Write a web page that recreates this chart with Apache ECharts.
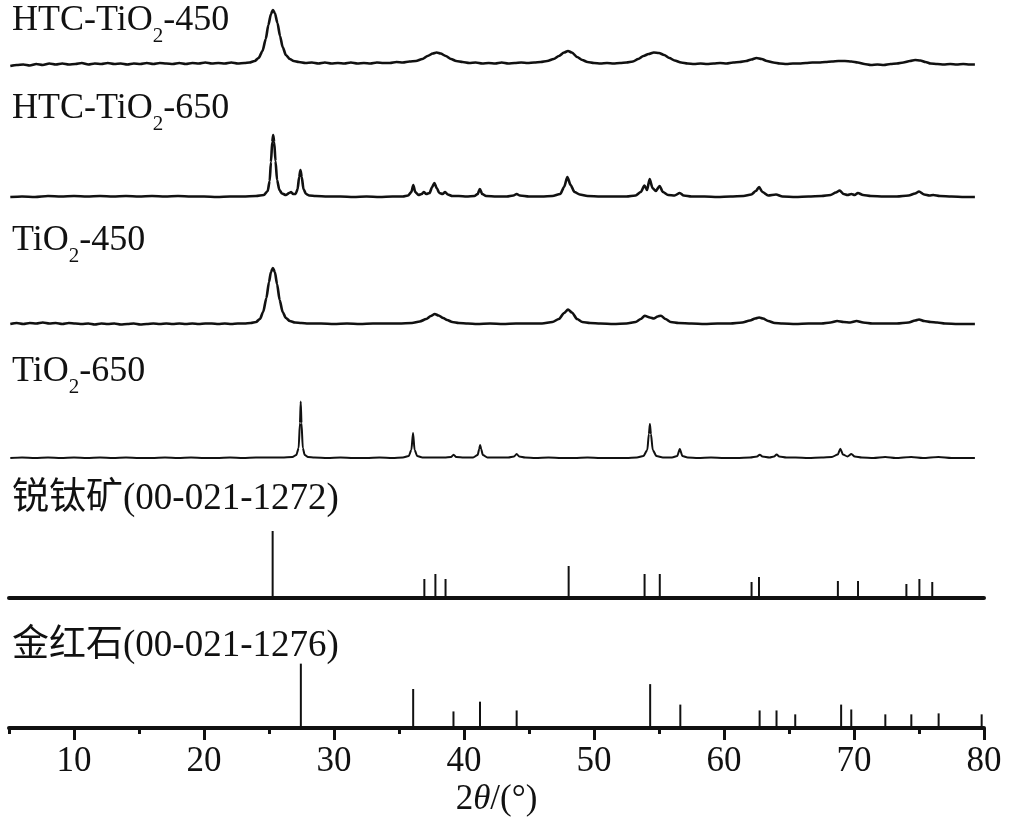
<!DOCTYPE html>
<html><head><meta charset="utf-8">
<script src="https://cdn.jsdelivr.net/npm/echarts@6/dist/echarts.min.js"></script>
<style>html,body{margin:0;padding:0;background:#fff}#c{width:1013px;height:818px}</style>
</head><body><div id="c"></div>
<script>
// ---------- data (2θ in degrees, intensity in arbitrary units above each pattern's baseline) ----------
const xTickValues = [10, 20, 30, 40, 50, 60, 70, 80];
const xMinorTickValues = [5, 15, 25, 35, 45, 55, 65, 75];
const patternLabels = ['HTC-TiO|2|-450', 'HTC-TiO|2|-650', 'TiO|2|-450', 'TiO|2|-650', '锐钛矿(00-021-1272)', '金红石(00-021-1276)'];

const htc450 = [[5.1,-1],[5.6,0],[6.1,0.5],[6.6,-0.5],[7.1,1],[7.6,0],[8.1,1.5],[8.6,0.5],[9.1,1.5],[9.6,0.5],[10.1,1],[10.6,2],[11.1,0.5],[11.6,1.5],[12.1,1],[12.6,2],[13.1,1],[13.6,1.5],[14.1,0.5],[14.6,1.5],[15.1,1],[15.6,2],[16.1,1],[16.6,2],[17.1,1.5],[17.6,1],[18.1,2],[18.6,1],[19.1,2],[19.6,1.5],[20.1,2.5],[20.6,1.5],[21.1,2],[21.6,1.5],[22.1,2.5],[22.6,1.5],[23.1,2],[23.5,2.5],[23.9,4],[24.2,7],[24.5,14],[24.75,26],[24.95,40],[25.15,51],[25.3,55],[25.45,52],[25.65,42],[25.85,29],[26.05,18],[26.3,10],[26.6,6],[26.9,4],[27.3,3],[27.8,2],[28.3,2.5],[28.8,1.5],[29.3,2.5],[29.8,1.5],[30.3,2],[30.8,1.5],[31.3,2.5],[31.8,1.5],[32.3,2],[32.8,1.5],[33.3,2.5],[33.8,2],[34.3,2],[34.8,3],[35.3,2.5],[35.8,3.5],[36.3,4],[36.8,6],[37.2,9],[37.6,11.5],[37.9,12.5],[38.2,11.5],[38.6,9],[39.0,6],[39.4,4],[39.9,3],[40.4,2],[40.9,2.5],[41.4,1.5],[41.9,2],[42.4,1.5],[42.9,2.5],[43.4,1.5],[43.9,2],[44.4,2.5],[44.9,2],[45.4,2.5],[45.9,3],[46.4,4],[46.9,6],[47.3,9],[47.7,12.5],[48.0,14],[48.3,12.5],[48.7,8],[49.1,5],[49.5,3],[50.0,2],[50.5,1.5],[51.0,2],[51.5,1.5],[52.0,2],[52.5,2.5],[53.0,3.5],[53.4,6],[53.8,9],[54.2,11],[54.6,12.5],[55.0,12],[55.4,10],[55.8,7],[56.2,4.5],[56.7,2.5],[57.2,1.5],[57.7,1],[58.2,1.5],[58.7,1],[59.2,1.5],[59.7,2],[60.2,1.5],[60.7,2.5],[61.2,3],[61.7,4],[62.1,5.5],[62.5,7],[62.9,6],[63.3,4],[63.8,2.5],[64.3,1.5],[64.8,1],[65.3,1.5],[65.8,1.5],[66.3,2],[66.8,2.5],[67.3,2.5],[67.8,3],[68.3,3.5],[68.8,4],[69.3,4],[69.8,3.5],[70.3,2.5],[70.8,1],[71.3,0],[71.8,0.5],[72.3,0],[72.8,1],[73.3,1.5],[73.8,2.5],[74.3,4],[74.7,5],[75.1,4.5],[75.5,3],[75.9,1.5],[76.4,1],[76.9,0.5],[77.4,1],[77.9,0.5],[78.4,1],[78.9,0.5],[79.3,0.5]];

const htc650 = [[5.1,0],[6,0.5],[7,0],[8,1],[9,0.5],[10,1],[11,0.5],[12,1],[13,0.5],[14,1],[15,0.5],[16,1],[17,0.5],[18,1],[19,0.5],[20,0.5],[21,0],[22,0.5],[23,0.5],[24,1],[24.6,2],[24.9,6],[25.05,16],[25.15,35],[25.25,55],[25.32,62],[25.4,55],[25.5,36],[25.62,17],[25.8,7],[26.0,3.5],[26.3,2],[26.55,4],[26.7,5],[26.85,3],[27.05,3],[27.2,8],[27.32,20],[27.42,27],[27.52,20],[27.65,8],[27.85,3],[28.1,1.5],[28.6,1],[29.5,0.5],[30.5,0.5],[31.5,0],[32.5,0.5],[33.5,0],[34.5,0.5],[35.3,0.5],[35.7,1.5],[35.95,5],[36.1,12],[36.25,5],[36.5,2],[36.75,3],[36.9,5],[37.1,3],[37.35,4],[37.55,10],[37.72,14],[37.9,9],[38.1,4],[38.35,3],[38.55,5],[38.75,2.5],[39.1,1],[39.6,1],[40.2,0.5],[40.8,1],[41.05,3],[41.22,8],[41.4,3],[41.7,1],[42.5,0.5],[43.3,0.5],[43.8,1.5],[44.05,3],[44.3,1.5],[45,0.5],[46,0.5],[46.8,1],[47.4,3],[47.7,10],[47.95,20],[48.2,12],[48.5,5],[48.9,2.5],[49.5,1],[50.5,0.5],[51.5,0.5],[52.5,0.5],[53.2,1.5],[53.6,5],[53.88,11.5],[54.08,7],[54.28,18],[54.5,9],[54.75,6],[55.05,11],[55.3,5],[55.7,2],[56.2,1.5],[56.6,4],[56.9,1.5],[57.5,0.5],[58.5,0.5],[59.5,0],[60.5,0.5],[61.5,1],[62.1,2.5],[62.45,6],[62.7,10],[62.95,5],[63.4,1.5],[64.0,2.5],[64.5,0.5],[65.5,0],[66.5,0.5],[67.5,1],[68.2,2],[68.6,4.5],[68.9,6.5],[69.2,3],[69.5,2],[69.8,3],[70.05,2],[70.3,4],[70.7,2],[71.3,1],[72.3,0.5],[73.3,0.5],[74.2,1.5],[74.7,3.5],[75.0,5.5],[75.4,2.5],[75.8,1.5],[76.1,2],[76.6,1],[77.5,0.5],[78.5,0],[79.3,0]];

const tio450 = [[5.1,0],[5.6,1],[6.1,0],[6.6,1],[7.1,0.5],[7.6,1.5],[8.1,0.5],[8.6,1],[9.1,0],[9.6,1],[10.1,0.5],[10.6,0],[11.1,0.5],[11.6,-0.5],[12.1,0.5],[12.6,0],[13.1,0.5],[13.6,-0.5],[14.1,0],[14.6,0.5],[15.1,-0.5],[15.6,0],[16.1,0.5],[16.6,0],[17.1,0.5],[17.6,0],[18.1,0.5],[18.6,0],[19.1,0.5],[19.6,0],[20.1,0.5],[20.6,0.5],[21.1,0],[21.6,0.5],[22.1,0],[22.6,0.5],[23.1,0.5],[23.6,1],[24.0,2],[24.3,5],[24.55,12],[24.8,26],[25.0,42],[25.15,52],[25.3,56],[25.45,52],[25.62,40],[25.82,24],[26.05,12],[26.3,6],[26.6,3],[27.0,1.5],[27.5,1],[28,0.5],[29,0.5],[30,0],[31,0.5],[32,0],[33,0.5],[34,0.5],[35,0.5],[36,1],[36.6,2.5],[37.1,5],[37.45,8],[37.75,10],[38.05,8.5],[38.4,6],[38.7,4],[39.1,2],[39.6,1],[40.3,0.5],[41,0],[42,0.5],[43,0],[44,0.5],[45,0.5],[46,0.5],[46.8,2],[47.3,5],[47.7,11],[48.0,14.5],[48.3,11.5],[48.7,5],[49.1,2],[49.7,1],[50.5,0.5],[51.5,0],[52.5,0.5],[53.2,2],[53.6,5],[53.9,8.3],[54.3,6.5],[54.6,5.5],[54.9,7.5],[55.15,8.3],[55.5,5],[55.9,2],[56.5,1],[57.5,0.5],[58.5,0],[59.5,0.5],[60.5,0.5],[61.4,1.5],[62.0,3.5],[62.4,5.5],[62.7,6.5],[63.0,5.5],[63.4,3],[63.9,1],[64.5,0.5],[65.5,0],[66.5,0.5],[67.5,0.5],[68.2,1.5],[68.7,3],[69.2,2],[69.7,1.5],[70.2,3],[70.7,1.5],[71.4,0.5],[72.3,0.5],[73.3,0.5],[74.2,1.5],[74.7,3.5],[75.0,4.5],[75.4,3],[75.9,2],[76.4,1.5],[77,0.5],[78,0],[79.3,0]];

const tio650 = [[5.1,0],[6,0.5],[7,0],[8,0.5],[9,0],[10,0.5],[11,0],[12,0.5],[13,0],[14,0.5],[15,0],[16,0],[17,0.5],[18,0],[19,0.5],[20,0],[21,0],[22,0.5],[23,0],[24,0.5],[25,0.5],[26,0.5],[26.8,1],[27.1,3],[27.28,10],[27.38,35],[27.44,56.5],[27.5,35],[27.6,10],[27.75,3],[28.0,1],[28.5,0.5],[29.5,0],[30.5,0.5],[31.5,0],[32.5,0],[33.5,0.5],[34.5,0],[35.3,0.5],[35.75,2],[35.95,8],[36.08,25],[36.2,8],[36.4,2],[36.8,0.5],[37.5,0.5],[38.5,0.5],[39.0,1],[39.2,3.3],[39.4,1],[40.0,0.5],[40.7,0.5],[41.05,3],[41.17,9],[41.24,13],[41.32,9],[41.45,3],[41.8,0.5],[42.5,0.5],[43.4,0.5],[43.85,1.5],[44.05,4],[44.25,1.5],[44.7,0.5],[45.5,0],[46.5,0.5],[47.5,0],[48.5,0],[49.5,0.5],[50.5,0],[51.5,0],[52.5,0],[53.3,0.5],[53.8,2],[54.1,8],[54.22,24],[54.3,34],[54.38,24],[54.52,8],[54.8,2],[55.3,0.5],[56.0,0.5],[56.4,2],[56.6,9],[56.8,2],[57.2,0.5],[58,0],[59,0.5],[60,0],[61,0],[62,0.5],[62.55,1.5],[62.75,3.3],[62.95,1.5],[63.5,0.5],[63.85,1.5],[64.05,3.5],[64.25,1.5],[64.8,0.5],[65.5,0.5],[66.5,0],[67.5,0.5],[68.3,1],[68.75,3.5],[68.95,9.3],[69.15,3.5],[69.5,1.5],[69.8,4],[70.05,1.5],[70.6,0.5],[71.5,0],[72.4,1],[73.2,0],[74.4,1],[75.3,0],[76.5,1],[77.5,0],[78.5,0],[79.3,0]];

const anataseRef = [[25.28,67],[36.95,19],[37.80,24],[38.58,19],[48.05,32],[53.89,24],[55.06,24],[62.12,16],[62.69,21],[68.76,17],[70.31,17],[74.03,14],[75.03,19],[76.02,16]];
const rutileRef = [[27.45,66],[36.09,40],[39.19,17],[41.23,27],[44.05,18],[54.32,45],[56.64,24],[62.74,18],[64.04,18],[65.48,14],[69.01,24],[69.79,19],[72.41,14],[74.41,14],[76.51,15],[79.82,14]];

// ---------- layout ----------
const panels = [
  {top: 0, height: 65, kind: 'line', data: htc450, width: 2.6, labelTop: -5},
  {top: 127, height: 70, kind: 'line', data: htc650, width: 2.6, labelTop: 83},
  {top: 254, height: 70, kind: 'line', data: tio450, width: 2.6, labelTop: 215},
  {top: 388, height: 70, kind: 'line', data: tio650, width: 2, labelTop: 346},
  {top: 518, height: 80, kind: 'bar', data: anataseRef, labelTop: 475},
  {top: 650, height: 80, kind: 'bar', data: rutileRef, labelTop: 622}
];
const FONT = '"Liberation Serif", "Times New Roman", "Noto Sans CJK SC", serif';
const INK = '#111';

const grid = [], xAxis = [], yAxis = [], series = [], title = [];
panels.forEach((p, i) => {
  grid.push({left: 9, right: 29, top: p.top, height: p.height});
  const isRef = p.kind === 'bar';
  const isBottom = i === panels.length - 1;
  xAxis.push({
    gridIndex: i, type: 'value', min: 5, max: 80,
    show: isRef,
    axisLine: {show: isRef, lineStyle: {color: INK, width: 4}},
    axisTick: isBottom ? {show: true, customValues: xTickValues, length: 12, inside: false, lineStyle: {color: INK, width: 3}} : {show: false},
    axisLabel: isBottom ? {show: true, customValues: xTickValues, margin: 16, color: INK, fontSize: 35, fontFamily: FONT} : {show: false},
    splitLine: {show: false},
    name: isBottom ? '{n|2}{i|θ}{n|/(°)}' : '',
    nameLocation: 'middle', nameGap: 54,
    nameTextStyle: {rich: {n: {fontSize: 35, fontFamily: FONT, color: INK}, i: {fontSize: 35, fontFamily: FONT, fontStyle: 'italic', color: INK}}}
  });
  yAxis.push({gridIndex: i, type: 'value', min: 0, max: p.height, show: false, splitLine: {show: false}});
  if (isRef) {
    series.push({type: 'bar', xAxisIndex: i, yAxisIndex: i, data: p.data, barWidth: 2, itemStyle: {color: INK}, silent: true});
  } else {
    series.push({type: 'line', xAxisIndex: i, yAxisIndex: i, data: p.data, showSymbol: false, smooth: 0.25, smoothMonotone: 'x', clip: false,
      lineStyle: {color: INK, width: p.width, join: 'round'}, silent: true});
  }
  const parts = patternLabels[i].split('|');
  const txt = parts.length === 3 ? '{a|' + parts[0] + '}{s|' + parts[1] + '}{a|' + parts[2] + '}' : '{c|' + parts[0] + '}';
  title.push({left: 12, top: p.labelTop, padding: 0, text: txt,
    textStyle: {fontWeight: 'normal', rich: {
      a: {fontSize: 36, fontWeight: 'normal', fontFamily: FONT, color: INK, lineHeight: 52, verticalAlign: 'middle'},
      s: {fontSize: 21, fontWeight: 'normal', fontFamily: FONT, color: INK, lineHeight: 52, verticalAlign: 'bottom'},
      c: {fontSize: 37, fontWeight: 'normal', fontFamily: FONT, color: INK, lineHeight: 48}
    }}});
});
// minor ticks on the bottom axis
xAxis.push({gridIndex: 5, type: 'value', min: 5, max: 80, position: 'bottom',
  axisLine: {show: false}, axisLabel: {show: false}, splitLine: {show: false},
  axisTick: {show: true, customValues: xMinorTickValues, length: 6, lineStyle: {color: INK, width: 3}}});

const chart = echarts.init(document.getElementById('c'), null, {renderer: 'canvas'});
chart.setOption({animation: false, backgroundColor: '#fff', title, grid, xAxis, yAxis, series});
</script>
</body></html>
